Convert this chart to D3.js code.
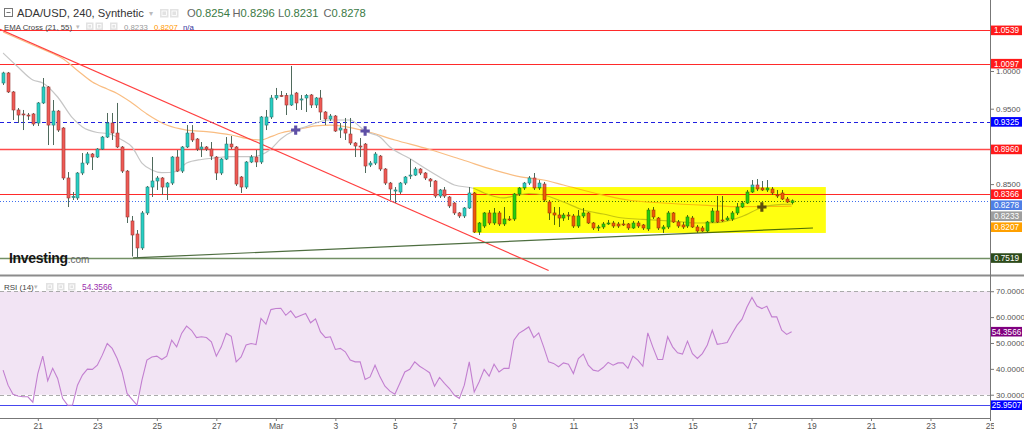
<!DOCTYPE html>
<html>
<head>
<meta charset="utf-8">
<script src="https://cdn.jsdelivr.net/npm/d3@7/dist/d3.min.js"></script>
<style>
 html,body{margin:0;padding:0;background:#ffffff;overflow:hidden;}
 svg{display:block;}
 text{font-family:"Liberation Sans",Arial,Helvetica,sans-serif;}
</style>
</head>
<body>
<svg id="chart" width="1024" height="431"></svg>
<script>
// ================= DATA =================
const symbolTitle = "ADA/USD, 240, Synthetic";
const indicatorTitle = "EMA Cross (21, 55)";
const rsiTitle = "RSI (14)";
const firstCandleUTC = [2021, 1, 19, 20];   // Feb 19 2021 20:00 UTC
const candleHours = 4;
const axisStartUTC = [2021, 1, 21];
const axisEndUTC = [2021, 2, 25];

const opens = [
 .9841,.9974,.9722,.9483,.9430,.9416,.9430,.9310,.9576,.9788,
 .9283,.9469,.9244,.8581,.8329,.8316,.8647,.8779,.8899,.8859,
 .8965,.9124,.9310,.9177,.8992,.8673,.8011,.7838,.7653,.8117,
 .8461,.8541,.8581,.8461,.8514,.8859,.8673,.8992,.9177,.9098,
 .8965,.8992,.8965,.8859,.8647,.8832,.9031,.8992,.8594,.8461,
 .8793,.8859,.8793,.9283,.9390,.9642,.9675,.9675,.9549,.9708,
 .9615,.9642,.9682,.9549,.9642,.9456,.9363,.9403,.9217,.9230,
 .9164,.9045,.9005,.9031,.8753,.8779,.8872,.8700,.8514,.8408,
 .8395,.8514,.8607,.8620,.8700,.8647,.8567,.8541,.8342,.8422,
 .8329,.8249,.8117,.8077,.8183,.8382,.7865,.7944,.8117,.7984,
 .8117,.7971,.8037,.8037,.8369,.8448,.8514,.8581,.8448,.8501,
 .8263,.8117,.8090,.8050,.8090,.8077,.7944,.8077,.8117,.7984,
 .7918,.7931,.7971,.7984,.7971,.7971,.7971,.7918,.7984,.7958,
 .7905,.8156,.8050,.7905,.7931,.8117,.7997,.7958,.7944,.8050,
 .7931,.7918,.7878,.7997,.8143,.8024,.8024,.8037,.8117,.8196,
 .8249,.8395,.8488,.8448,.8422,.8435,.8355,.8382,.8302,.8254];
const highs = [
 .9990,.9987,.9735,.9509,.9483,.9443,.9443,.9589,.9907,.9801,
 .9615,.9483,.9257,.8660,.8395,.8660,.8912,.8925,.8912,.8978,
 .9138,.9443,.9443,.9576,.9005,.8687,.8077,.7891,.8143,.8475,
 .8859,.8607,.8594,.8528,.8872,.8952,.9005,.9283,.9283,.9111,
 .9058,.9005,.9058,.8872,.8846,.9124,.9138,.9005,.8607,.8806,
 .8886,.8952,.9403,.9483,.9682,.9775,.9735,.9708,1.0067,.9722,
 .9682,.9695,.9695,.9655,.9748,.9469,.9430,.9416,.9310,.9377,
 .9377,.9058,.9111,.9045,.8806,.8925,.8886,.8713,.8528,.8461,
 .8528,.8607,.8832,.8726,.8713,.8660,.8581,.8554,.8435,.8461,
 .8342,.8263,.8130,.8196,.8461,.8395,.7997,.8130,.8156,.8183,
 .8143,.8196,.8077,.8382,.8461,.8528,.8607,.8647,.8554,.8528,
 .8289,.8196,.8196,.8117,.8130,.8103,.8156,.8183,.8130,.7997,
 .7958,.7997,.8024,.8011,.7997,.8024,.7984,.8011,.8011,.7971,
 .8183,.8196,.8064,.7958,.8143,.8130,.8024,.7997,.8090,.8077,
 .7958,.7944,.8011,.8183,.8342,.8342,.8077,.8143,.8249,.8276,
 .8422,.8554,.8567,.8541,.8554,.8461,.8422,.8422,.8329,.8296];
const lows = [
 .9814,.9708,.9350,.9310,.9217,.9350,.9270,.9270,.9562,.9018,
 .9018,.9191,.8554,.8196,.8289,.8289,.8620,.8753,.8687,.8846,
 .8952,.9111,.9085,.8978,.8647,.7984,.7540,.7519,.7626,.8090,
 .8329,.8422,.8355,.8289,.8488,.8660,.8647,.8978,.9058,.8939,
 .8859,.8939,.8819,.8554,.8620,.8819,.8965,.8475,.8382,.8435,
 .8779,.8726,.8766,.9217,.9363,.9615,.9655,.9416,.9536,.9483,
 .9483,.9456,.9509,.9509,.9350,.9283,.9337,.9191,.9111,.9085,
 .9018,.8859,.8859,.8647,.8726,.8753,.8673,.8488,.8289,.8249,
 .8369,.8488,.8567,.8607,.8620,.8554,.8461,.8316,.8316,.8316,
 .8183,.8090,.8050,.8050,.8170,.7852,.7825,.7918,.7958,.7958,
 .7944,.7944,.8011,.8011,.8342,.8422,.8488,.8422,.8422,.8263,
 .8024,.7958,.7931,.8011,.8024,.7918,.7918,.8050,.7971,.7891,
 .7878,.7905,.7958,.7918,.7918,.7944,.7891,.7905,.7918,.7891,
 .7878,.8037,.7891,.7852,.7905,.7984,.7918,.7905,.7918,.7918,
 .7852,.7865,.7865,.7984,.7984,.7997,.8011,.8011,.8090,.8183,
 .8236,.8382,.8408,.8408,.8395,.8355,.8316,.8289,.8249,.8231];
const closes = [
 .9974,.9722,.9483,.9416,.9423,.9410,.9297,.9576,.9788,.9283,
 .9469,.9217,.8581,.8316,.8335,.8647,.8779,.8899,.8859,.8965,
 .9124,.9310,.9177,.8992,.8673,.8064,.7825,.7653,.8117,.8461,
 .8541,.8581,.8461,.8514,.8859,.8673,.8992,.9177,.9085,.8965,
 .8992,.8965,.8872,.8647,.8832,.9031,.8992,.8501,.8461,.8793,
 .8859,.8793,.9390,.9390,.9642,.9675,.9670,.9549,.9682,.9576,
 .9629,.9675,.9549,.9642,.9456,.9363,.9403,.9204,.9244,.9177,
 .9045,.9005,.8998,.8740,.8779,.8899,.8700,.8514,.8435,.8422,
 .8514,.8594,.8620,.8700,.8647,.8581,.8541,.8342,.8422,.8342,
 .8210,.8117,.8077,.8183,.8382,.7865,.7984,.8117,.7984,.8117,
 .7971,.8037,.8030,.8369,.8448,.8514,.8581,.8448,.8514,.8289,
 .8117,.8090,.8050,.8090,.8077,.7944,.8077,.8117,.7984,.7918,
 .7931,.7971,.7984,.7944,.7944,.7964,.7918,.7984,.7944,.7918,
 .8156,.8064,.7918,.7931,.8117,.7997,.7944,.7931,.8064,.7931,
 .7878,.7878,.7997,.8143,.7997,.8017,.8050,.8117,.8196,.8249,
 .8395,.8488,.8435,.8422,.8448,.8382,.8342,.8302,.8263,.8278];
const rsiValues = [
 39.5,33.7,30.2,29.5,29.2,29.2,27.1,38.2,44.9,35.4,
 40.2,36.3,28.6,25.95,26.0,33.7,37.6,39.9,39.8,41.4,
 45.3,49.8,47.9,44.0,38.8,30.5,28.2,26.0,35.6,43.4,
 44.6,44.9,43.6,44.9,51.1,48.5,53.7,56.5,54.9,52.1,
 52.4,52.1,50.4,44.9,48.5,53.7,52.6,42.7,44.6,49.2,
 49.8,49.4,59.5,57.3,62.9,63.3,63.4,60.7,62.4,59.8,
 60.6,61.4,57.8,59.3,54.3,52.1,52.4,47.5,47.9,46.6,
 43.4,42.7,42.7,35.9,36.9,41.4,36.9,33.3,31.4,30.2,
 34.4,38.8,39.8,42.7,41.0,39.8,38.5,33.3,36.7,34.4,
 32.4,29.8,28.6,33.7,42.7,31.1,35.0,39.8,37.2,41.8,
 38.8,40.2,40.2,51.1,53.7,54.9,56.2,52.1,53.9,48.5,
 42.7,42.1,40.8,42.3,41.8,38.2,44.0,45.7,41.4,39.5,
 39.1,40.5,42.5,41.4,42.3,42.3,40.2,44.9,43.4,41.0,
 53.9,48.5,43.6,43.6,52.4,48.5,46.2,45.7,50.7,45.9,
 44.0,45.9,49.2,54.9,49.5,49.8,50.2,53.7,56.9,59.2,
 63.9,67.6,64.3,63.3,64.2,60.1,60.1,54.9,53.3,54.3566];

// EMA 21 (grey) and EMA 55 (orange), read at candle indices
const emaFastIdx = [0,3,6,8,11,14,16,19,21,24,26,28,30,32,35,37,40,42,46,50,52,54,56,59,61,64,66,70,72,73,76,78,82,85,88,91,95,97,101,103,106,109,113,117,121,125,129,136,140,144,149,153,157,159];
const emaFastVal = [1.0239,1.0053,0.9881,0.9841,0.9655,0.9377,0.9257,0.9184,0.9171,0.9085,0.8992,0.8779,0.8687,0.8651,0.8667,0.8779,0.8826,0.8842,0.8864,0.8864,0.8886,0.8965,0.9098,0.9217,0.9261,0.9330,0.9350,0.9350,0.9257,0.9204,0.9124,0.8992,0.8839,0.8713,0.8594,0.8488,0.8442,0.8382,0.8316,0.8342,0.8375,0.8355,0.8263,0.8156,0.8103,0.8050,0.8033,0.8004,0.7984,0.7988,0.8070,0.8190,0.8230,0.8233];
const emaSlowIdx = [0,6,10,12,15,18,21,23,26,29,33,37,41,46,50,52,54,56,59,63,66,73,79,86,93,99,105,109,113,120,126,133,142,149,155,159];
const emaSlowVal = [1.0517,1.0345,1.0232,1.0166,1.0007,0.9854,0.9761,0.9702,0.9576,0.9430,0.9283,0.9217,0.9195,0.9151,0.9094,0.9085,0.9129,0.9177,0.9217,0.9271,0.9283,0.9204,0.9085,0.8959,0.8813,0.8687,0.8588,0.8554,0.8488,0.8369,0.8289,0.8249,0.8217,0.8201,0.8204,0.8207];
const crossIdx = [59, 73, 153];
const crossVal = [0.9217, 0.9204, 0.8196];

const levelValues = [1.0539, 1.0097, 0.9325, 0.8960, 0.8366, 0.7519];
const diagIdx = [-0.63, 110], diagVal = [1.0553, 0.7355];
const supportIdx = [26.2, 163.3], supportVal = [0.7521, 0.7918];
const boxIdx = [94.8, 165.9], boxVal = [0.8461, 0.7852];

const priceTicks = [1.0, 0.95, 0.85];
const rsiTicks = [70, 60, 50, 40, 30];
const rsiBand = [30, 70];
const rsiMin = 25.9507;

// ================= STYLES =================
const levelStyle = [
  {stroke:"#ff2a2a", dash:null, w:1, tag:"#ff1a1a"},
  {stroke:"#ff2a2a", dash:null, w:1, tag:"#ff1a1a"},
  {stroke:"#2020e0", dash:"4,3", w:1, tag:"#0000ff"},
  {stroke:"#ff4a4a", dash:null, w:1.3, tag:"#ff1a1a"},
  {stroke:"#ff2a2a", dash:null, w:1, tag:"#ff1a1a"},
  {stroke:"#728f64", dash:null, w:1.3, tag:"#2c4a1a"}
];
const UP = "#26cfc3", DOWN = "#ef5a55";

// ================= SCALES =================
const svg = d3.select("#chart");
const PR = 990;  // right edge of plot
const x = d3.scaleUtc()
  .domain([new Date(Date.UTC(...axisStartUTC)), new Date(Date.UTC(...axisEndUTC))])
  .range([37.8, PR]);
const t0 = Date.UTC(...firstCandleUTC);
const tOf = k => new Date(t0 + k * candleHours * 3600 * 1000);
const xk = k => x(tOf(k));
const y = d3.scaleLinear().domain([0.72811, 1.09416]).range([276, 0]);
const yr = d3.scaleLinear().domain([21.0, 75.5]).range([418, 277]);

svg.append("rect").attr("width",1024).attr("height",431).attr("fill","#fff");

const defs = svg.append("defs");
defs.append("clipPath").attr("id","mainClip")
  .append("rect").attr("x",0).attr("y",0).attr("width",PR).attr("height",275);
defs.append("clipPath").attr("id","xClip")
  .append("rect").attr("x",0).attr("y",410).attr("width",994).attr("height",21);

// ================= RSI PANEL =================
const rp = svg.append("g");
rp.append("rect").attr("x",0).attr("width",PR)
  .attr("y", yr(rsiBand[1])).attr("height", yr(rsiBand[0]) - yr(rsiBand[1]))
  .attr("fill","#f2e4f4");
rsiBand.forEach(v => rp.append("line").attr("x1",0).attr("x2",PR)
  .attr("y1",Math.round(yr(v))+0.5).attr("y2",Math.round(yr(v))+0.5)
  .attr("stroke","#aaa").attr("stroke-dasharray","4,3"));
rp.append("line").attr("x1",0).attr("x2",PR)
  .attr("y1",Math.round(yr(rsiMin))+0.5).attr("y2",Math.round(yr(rsiMin))+0.5)
  .attr("stroke","#4646ee").attr("stroke-width",1);
rp.append("path").datum(rsiValues)
  .attr("d", d3.line().x((d,i)=>xk(i)).y(d=>yr(d)))
  .attr("fill","none").attr("stroke","#c27fd0").attr("stroke-width",1.1);

// ================= MAIN PANEL =================
const mp = svg.append("g").attr("clip-path","url(#mainClip)");
levelValues.forEach((v,i) => {
  const s = levelStyle[i];
  const ln = mp.append("line").attr("x1",0).attr("x2",PR)
    .attr("y1",Math.round(y(v))+0.5).attr("y2",Math.round(y(v))+0.5)
    .attr("stroke",s.stroke).attr("stroke-width",s.w);
  if (s.dash) ln.attr("stroke-dasharray",s.dash);
});
// current price dotted line
const lastClose = closes[closes.length-1];
mp.append("line").attr("x1",0).attr("x2",PR)
  .attr("y1",Math.round(y(lastClose))+0.5).attr("y2",Math.round(y(lastClose))+0.5)
  .attr("stroke","#3f6fee").attr("stroke-dasharray","1,2");

// EMA lines
const emaLine = d3.line().curve(d3.curveMonotoneX).x(d=>xk(d[0])).y(d=>y(d[1]));
mp.append("path").datum(emaSlowIdx.map((k,i)=>[k,emaSlowVal[i]]))
  .attr("d",emaLine).attr("fill","none").attr("stroke","#f9bd82").attr("stroke-width",1.2);
mp.append("path").datum(emaFastIdx.map((k,i)=>[k,emaFastVal[i]]))
  .attr("d",emaLine).attr("fill","none").attr("stroke","#c6c6c6").attr("stroke-width",1.2);

// trend lines
mp.append("line").attr("x1",xk(diagIdx[0])).attr("y1",y(diagVal[0]))
  .attr("x2",xk(diagIdx[1])).attr("y2",y(diagVal[1]))
  .attr("stroke","#ff4040").attr("stroke-width",1.2);
mp.append("line").attr("x1",xk(supportIdx[0])).attr("y1",y(supportVal[0]))
  .attr("x2",xk(supportIdx[1])).attr("y2",y(supportVal[1]))
  .attr("stroke","#4e6e40").attr("stroke-width",1.2);

// candles
const candles = opens.map((o,i)=>({i,o,h:highs[i],l:lows[i],c:closes[i]}));
const cg = mp.append("g");
candles.forEach(d => {
  const cx = Math.round(xk(d.i));
  cg.append("line").attr("x1",cx+0.5).attr("x2",cx+0.5)
    .attr("y1",y(d.h)).attr("y2",y(d.l)).attr("stroke","#4f6a5c").attr("stroke-width",1);
  const top = y(Math.max(d.o,d.c)), bot = y(Math.min(d.o,d.c));
  cg.append("rect").attr("x",cx-1).attr("width",3)
    .attr("y",top).attr("height",Math.max(1,bot-top))
    .attr("fill", d.c >= d.o ? UP : DOWN)
    .attr("stroke", d.c >= d.o ? "#2c7d76" : "#9c3a36").attr("stroke-width",0.6);
});

// EMA cross markers
crossIdx.forEach((k,i)=>{
  mp.append("path").attr("d", d3.symbol(d3.symbolCross, 48)())
    .attr("transform",`translate(${xk(k)},${y(crossVal[i])})`)
    .attr("fill","#5e4fa6");
});

// yellow highlight box (multiply)
mp.append("rect")
  .attr("x",xk(boxIdx[0])).attr("width",xk(boxIdx[1])-xk(boxIdx[0]))
  .attr("y",y(boxVal[0])).attr("height",y(boxVal[1])-y(boxVal[0]))
  .attr("fill","#ffff10").style("mix-blend-mode","multiply");

// Investing logo
const logo = svg.append("text").attr("x",9).attr("y",263)
  .attr("font-size",14).attr("font-weight",700).attr("fill","#151515")
  .attr("letter-spacing","-0.3");
logo.append("tspan").text("Investing");
logo.append("tspan").attr("font-size",10).attr("font-weight",400).attr("fill","#666").attr("letter-spacing","0").text(".com");

// ================= FRAME / AXES =================
svg.append("line").attr("x1",0).attr("x2",1024).attr("y1",275.5).attr("y2",275.5)
  .attr("stroke","#8c8c8c").attr("stroke-width",2.2);
svg.append("line").attr("x1",PR+0.5).attr("x2",PR+0.5).attr("y1",0).attr("y2",418)
  .attr("stroke","#777");

function styleAxis(g){
  g.select(".domain").remove();
  g.selectAll(".tick line").attr("stroke","#777");
  g.selectAll(".tick text").attr("fill","#555").attr("font-size",8)
    .attr("font-family",'"Liberation Sans",Arial,sans-serif');
}
const gy = svg.append("g").attr("transform",`translate(${PR},0)`)
  .call(d3.axisRight(y).tickValues(priceTicks).tickFormat(d3.format(".4f")).tickSize(4).tickPadding(2));
styleAxis(gy);
const gr = svg.append("g").attr("transform",`translate(${PR},0)`)
  .call(d3.axisRight(yr).tickValues(rsiTicks).tickFormat(d3.format(".4f")).tickSize(4).tickPadding(2));
styleAxis(gr);

const gxWrap = svg.append("g").attr("clip-path","url(#xClip)");
const gx = gxWrap.append("g").attr("transform","translate(0,418)")
  .call(d3.axisBottom(x).ticks(d3.utcDay.every(2)).tickSizeInner(3).tickSizeOuter(0).tickPadding(2)
    .tickFormat(d => d.getUTCDate()===1 ? d3.utcFormat("%b")(d) : d3.utcFormat("%-d")(d)));
styleAxis(gx);
gx.selectAll(".tick text").attr("font-size",8.5);
svg.append("line").attr("x1",0).attr("x2",PR).attr("y1",418.5).attr("y2",418.5).attr("stroke","#777");

// ================= VALUE TAGS =================
const tagG = svg.append("g");
function tag(cy, txt, fill){
  tagG.append("rect").attr("x",PR+1).attr("y",cy-4.8).attr("width",31).attr("height",9.6).attr("fill",fill);
  tagG.append("text").attr("x",PR+16.5).attr("y",cy+3).attr("text-anchor","middle")
    .attr("font-size",8.2).attr("fill","#fff").text(txt);
}
const fmt4 = d3.format(".4f");
const mainTags = levelValues.map((v,i)=>({v, fill:levelStyle[i].tag}))
  .concat([{v:lastClose, fill:"#4f7fe6"},
           {v:emaFastVal[emaFastVal.length-1], fill:"#9e9e9e"},
           {v:emaSlowVal[emaSlowVal.length-1], fill:"#ffa000"}]);
mainTags.forEach(d=>d.py=y(d.v));
mainTags.sort((a,b)=>a.py-b.py);
for (let i=1;i<mainTags.length;i++) if (mainTags[i].py < mainTags[i-1].py+11) mainTags[i].py = mainTags[i-1].py+11;
mainTags.forEach(d=>tag(d.py, fmt4(d.v), d.fill));
const rsiLast = rsiValues[rsiValues.length-1];
tag(yr(rsiLast), fmt4(rsiLast), "#800080");
tag(yr(rsiMin), fmt4(rsiMin), "#0000ff");

// ================= LEGENDS =================
function iconBox(g, x0, y0, s){
  g.append("rect").attr("x",x0).attr("y",y0).attr("width",s).attr("height",s).attr("fill","#e2e2e2");
  g.append("rect").attr("x",x0+2).attr("y",y0+2).attr("width",s-4).attr("height",s-4).attr("fill","none").attr("stroke","#fff").attr("stroke-width",0.8);
}
const hg = svg.append("g");
hg.append("rect").attr("x",4.5).attr("y",8.5).attr("width",8).attr("height",8).attr("fill","#fff").attr("stroke","#777");
hg.append("line").attr("x1",6.5).attr("x2",10.5).attr("y1",12.5).attr("y2",12.5).attr("stroke","#777");
hg.append("text").attr("x",17).attr("y",17.3).attr("font-size",11.2).attr("fill","#333").text(symbolTitle);
hg.append("text").attr("x",149).attr("y",16).attr("font-size",8).attr("fill","#bbb").text("\u25BE");
iconBox(hg,160,9,8.5); iconBox(hg,170,9,8.5);
const last = candles[candles.length-1];
const ohlc = [["O",last.o],["H",last.h],["L",last.l],["C",last.c]];
ohlc.forEach((d,i)=>{
  const t = hg.append("text").attr("x",187+i*45.5).attr("y",17.3).attr("font-size",11.2);
  t.append("tspan").attr("fill","#666").text(d[0]);
  t.append("tspan").attr("fill","#3b7a45").text(fmt4(d[1]));
});
hg.append("text").attr("x",4).attr("y",29.5).attr("font-size",7.8).attr("fill","#444").text(indicatorTitle);
hg.append("text").attr("x",76).attr("y",29).attr("font-size",6.5).attr("fill","#bbb").text("\u25BE");
iconBox(hg,86,22.5,7.5); iconBox(hg,95.5,22.5,7.5); iconBox(hg,110,22.5,7.5);
hg.append("text").attr("x",124).attr("y",29.5).attr("font-size",7.8).attr("fill","#999").text(fmt4(emaFastVal[emaFastVal.length-1]));
hg.append("text").attr("x",154).attr("y",29.5).attr("font-size",7.8).attr("fill","#ff9800").text(fmt4(emaSlowVal[emaSlowVal.length-1]));
hg.append("text").attr("x",183).attr("y",29.5).attr("font-size",7.8).attr("fill","#33339a").text("n/a");

hg.append("text").attr("x",4).attr("y",289.5).attr("font-size",8).attr("fill","#444").text(rsiTitle);
hg.append("text").attr("x",34).attr("y",289).attr("font-size",6.5).attr("fill","#bbb").text("\u25BE");
iconBox(hg,46,283,7.5); iconBox(hg,57,283,7.5); iconBox(hg,68,283,7.5);
hg.append("text").attr("x",82).attr("y",289.5).attr("font-size",8.4).attr("fill","#9b2fae").text(fmt4(rsiLast));
</script>
</body>
</html>
